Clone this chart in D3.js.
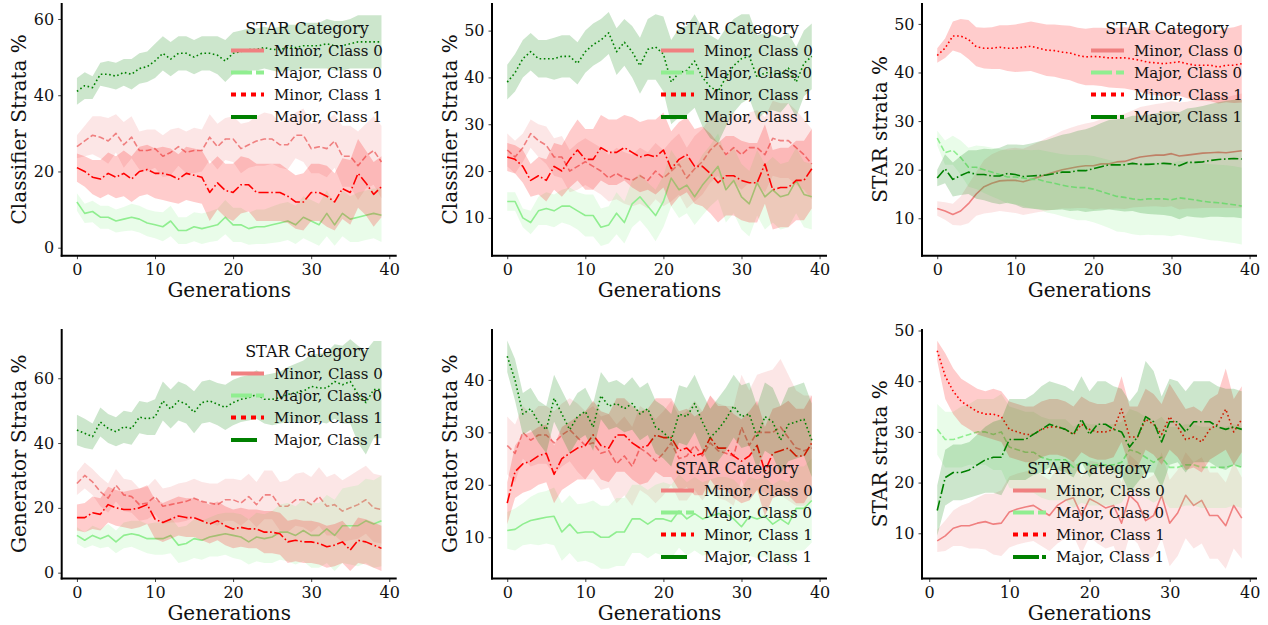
<!DOCTYPE html>
<html>
<head>
<meta charset="utf-8">
<script src="https://cdn.jsdelivr.net/npm/d3@7"></script>
<style>
  html, body { margin: 0; padding: 0; background: #fff; }
  svg { display: block; font-family: "DejaVu Serif", serif; }
</style>
</head>
<body>
<svg id="chart" width="1268" height="625"></svg>
<script>
// ---- Generations on the x axis ----
const gens0 = [0,1,2,3,4,5,6,7,8,9,10,11,12,13,14,15,16,17,18,19,20,21,22,23,24,25,26,27,28,29,30,31,32,33,34,35,36,37,38,39];
const gens1 = [1,2,3,4,5,6,7,8,9,10,11,12,13,14,15,16,17,18,19,20,21,22,23,24,25,26,27,28,29,30,31,32,33,34,35,36,37,38,39];

const categories = ["Minor, Class 0", "Major, Class 0", "Minor, Class 1", "Major, Class 1"];
const legendTitle = "STAR Category";
const xTicks = [0, 10, 20, 30, 40];
const xLabel = "Generations";

// ---- Classifier strata, run A ----
const clfA_minor0 = [26.5,28,29.5,29,28,30,27,29,25.5,25.5,26,24,25,26.5,25,25.5,25.5,29,26.5,28.5,28.5,26,27,28,28.5,28.5,27,27,29.5,29.5,26,26.5,26,28,24,24,21.5,24,25.5,22.5];
const clfA_major0 = [12,9,9.5,8,8,7,7.5,8,7.5,6.5,6,5.5,7,4.5,4.5,5.5,5,5.5,6,8,6,6,5,5.5,5.5,6,6.5,7,6,8,7,6,9,6,9,7.5,8,8.5,9,8.5];
const clfA_minor1 = [21,20,18.5,18,19.5,18.5,19.5,18,20,20.5,19.5,19.5,19,18,19.5,19,18.5,14.5,17,15,14.5,16.5,16.5,14.5,14.5,14.5,14.5,13.5,12,12,14.5,14.5,13.5,12,15.5,14.5,19.5,17,14,16];
const clfA_major1 = [41,42.5,42,45.5,45.5,45,46,45.5,47,47.5,49,51,49.5,51,51,50,51,51,50.5,49,51,51.5,52,52,52.5,52,52,52.5,52.5,53,53,53,53.5,53,53,53.5,54,54,54,54];
const clfA_minor0_sd = [3,4,5,5.5,6,5,6,5.5,5,5.5,5,5.5,6,5,5.5,6,5.5,6,6,5.5,6,6.5,6,6.5,7,6.5,6,6.5,6,7,6.5,7,7.5,7,8,8,9,8.5,9,9.5];
const clfA_major0_sd = [2.3,2.5,2.8,3,3,3,3.2,3.5,3.5,3.5,3.5,3.8,4,3.5,3.5,3.8,4,4,4.2,4.5,4.5,4.5,4.2,4.5,4.5,4.8,5,5,5,5.5,5.5,5.5,6,5.5,6,6,6.5,6.5,6.5,7];
const clfA_minor1_sd = [3.7,4,4.5,5,5.5,5.5,6,6,6.5,6.5,6.5,7,7,6.5,7,7,7,7.5,7,7,7.5,7.5,7,7.5,7.5,7.5,7.5,7,7,7.5,7.5,7.5,8,7.5,8,8.5,9,8.5,8.5,8];
const clfA_major1_sd = [3.5,3.5,3,3,3.5,3.5,3.5,4,4,4,4.5,4.5,4.5,4.5,4.5,4.5,4.5,4.5,5,5.5,5.5,5.5,5.5,5.5,5.5,5.5,6,6,6,6,6,6,6.5,6.5,6.5,6.5,7,7,7,7];

// ---- Classifier strata, run B ----
const clfB_minor0 = [24.5,23,25,28,26.5,25.5,23,23,20,21,22,21,20,18.5,19.5,18.5,18,19,18,20,18.5,20,21.5,18.5,20.5,22,24.5,26,23.5,25,23.5,25,25,23.5,27,26.5,26.5,25,23.5,21.5];
const clfB_major0 = [13.5,13.5,10,9,11.5,12,11.5,12.5,12.5,11.5,10.5,10.5,8,8.5,11,9,13,14.5,12.5,10.5,13.5,18.5,16,17,14.5,17,19,21,16,18,14.5,13,17.5,14.5,16,14.5,15,18,15,14.5];
const clfB_minor1 = [23,22.5,21,18,19,18,21,20,22.5,24.5,22.5,22.5,25,24,24,25,24,23,23.5,23,24.5,20.5,22.5,23.5,21,21,19.5,17.5,19,19,18,17.5,17.5,21.5,16,16.5,16.5,18,18,20.5];
const clfB_major1 = [39,41,44,45.5,44,44,44,44.5,44.5,43,45.5,47,48,49.5,45.5,47.5,45.5,42.5,46,46.5,45,39,41,41.5,43.5,40,38,37,40,42.5,44,44.5,40,41,41,40.5,42,39,43,44.5];
const clfB_minor0_sd = [3.5,3.5,3,3,3.5,4,4,4.5,4.5,5,5,5,5,5,5.5,5.5,5.5,6,6,6,6,6.5,6.5,6.5,7,7,7,7,7,7.5,7.5,7.5,8,8,8,8,8,8,7.5,7.5];
const clfB_major0_sd = [2,2,2,2.5,3,3.5,3.5,3.5,4,4,4.5,4.5,4,4,4.5,4.5,5,5,5,5.5,5.5,6,6,6,6,6.5,6.5,7,7,7,7,7,7,7,7,7,7,7,7,7];
const clfB_minor1_sd = [3,3,3.5,3.5,4,4.5,5,5.5,6,6.5,6.5,6.5,7,7,7,7,7.5,7.5,7.5,8,8,8,8,8,8,8.5,8.5,8.5,8.5,8.5,8.5,8.5,8.5,8.5,8.5,8.5,8.5,8.5,8.5,8.5];
const clfB_major1_sd = [3.7,4,4,4,4,4,4.5,4.5,4.5,4.5,4.5,4.5,4.5,4.5,5,5,5.5,6,6.5,7,8,9,9.5,9.5,10,10.5,11,11,10.5,10,9.5,9,9,8.5,8,8,7.5,7.5,7,7];

// ---- STAR strata, run A ----
const starA_minor0 = [12,11.5,10.8,11.5,13,15,16.5,17.2,17.7,17.8,17.8,17.5,18,18.5,19,19.5,20,20.3,20.6,20.8,20.8,21.2,21.2,21.6,21.7,22.2,22.6,22.8,23,23,23.3,22.8,23,23.2,23.4,23.5,23.6,23.5,23.7,23.9];
const starA_major0 = [26.5,23.5,24,22.5,20.5,20.5,20,19.5,19,18.5,18.5,18.3,18,18,17.5,17.2,16.8,16.5,16.3,16.3,16,15.5,15,14.5,14.3,14,13.8,14,14,14,13.8,14.2,14,13.8,13.5,13.3,13.2,13,12.8,12.5];
const starA_minor1 = [43.5,45,47.5,47.5,46.8,45.3,45,45,45.2,45,45,45.2,45.4,45,44.6,44.5,44.2,44,43.5,43.2,43.3,43.2,43,43,43,42.8,42.5,42.1,42,41.8,42,42.2,41.8,41.5,41.5,41.5,41.1,41.5,41.5,41.8];
const starA_major1 = [18.3,20.2,18,18.8,19.5,19,19,18.7,18.7,19.2,19,18.6,18.7,18.8,18.9,19.2,19.5,19.5,19.8,19.8,20.2,20.6,21,21,21,21.3,21.1,21.1,21.2,21.3,21.2,20.8,21.5,21.5,21.6,21.9,22.1,22.2,22.3,22.2];
const starA_minor0_sd = [1.5,1.8,2.2,3,4,4.5,5.5,6,6.2,6.5,6.7,6.8,7,7.2,7.5,7.7,8,8.3,8.5,8.7,9,9.2,9.3,9.6,9.8,10,10.3,10.4,10.5,10.7,10.8,11,11,11.2,11.3,11.4,11.5,11.4,11.6,11.8];
const starA_major0_sd = [1.5,2.5,3,3.5,4,4.5,4.8,5,5.2,5.5,5.6,5.8,6,6.1,6.3,6.3,6.4,6.5,6.7,6.7,6.8,6.9,7,7.2,7.2,7.3,7.3,7.4,7.5,7.5,7.5,7.6,7.7,7.7,7.7,7.8,7.8,7.9,7.9,7.9];
const starA_minor1_sd = [1.5,2,3,3.5,4,4,4.2,4.3,4.5,4.7,4.9,5,5.1,5.2,5.3,5.4,5.5,5.6,5.7,5.8,5.9,6,6.1,6.2,6.3,6.4,6.5,6.6,6.7,6.8,6.9,7,7.1,7.2,7.3,7.4,7.5,7.6,7.8,8];
const starA_major1_sd = [1.7,3,3.5,4,4.5,5,5.3,5.5,5.8,6,6.2,6.5,6.7,7,7.2,7.5,7.7,8,8.2,8.5,8.7,9,9.2,9.4,9.6,9.8,10,10.2,10.4,10.6,10.8,11,11.1,11.3,11.5,11.6,11.8,12,12.1,12.2];

// ---- Generator strata, run A ----
const genA_minor0 = [27.5,30,28,25,23,27,24,23.5,21,21.5,23.5,20.5,21,21.5,22,23,22,21.5,21,22.5,22.5,21.5,23.5,21,24,24,20.5,20.5,22.5,22.5,21,23.5,20.5,21,19,20,21,22.5,20,19.5];
const genA_major0 = [11.5,10,11.5,10.5,11.5,9.5,11.5,12,11.5,10.5,10.5,10.5,11.5,8.5,9,10.5,10,11,11.5,12,11.5,11,9.5,11,10.5,11,12.5,12.5,11.5,13,11.5,11.5,13.5,11.5,14.5,14.5,14.5,16,15,16];
const genA_minor1 = [17,17,18.5,18,21,20,19.5,19.5,20,21,16.5,15.5,16.5,17.5,17,17,16,15,16,14.5,13.5,14,13.5,13.5,12.5,12.5,12,9.5,10,9.5,9.5,9,8,8.5,9.5,7,10,9.5,8.5,7.5];
const genA_major1 = [44,43,42,46.5,44.5,43.5,45,44.5,48,47.5,48,53,50.5,53,52,49.5,52.5,53,52,51,52.5,53.5,54,55,53.5,53.5,54,55,55.5,56,57.5,57,57,59,58,59,55,52.5,56.5,56.5];
const genA_minor0_sd = [3.5,4,4,4.5,4.5,5,5,5,5,5,5.5,5.5,5.5,6,6,6,6,6,6.5,6.5,6.5,7,7,7,7.5,7.5,7.5,8,8,8.5,8.5,9,9,9.5,9.5,10,10.5,10.5,10.5,10.5];
const genA_major0_sd = [2.5,2.5,3,3,3.5,3.5,4,4,4.5,4.5,5,5,5.5,5.5,5.5,6,6,6,6.5,6.5,7,7,7,7.5,7.5,8,8.5,9,9,9.5,10,10,10.5,11,11.5,12,12.5,13,13.5,14];
const genA_minor1_sd = [4,4.5,5,5,5.5,5.5,5.5,6,6,6,6,6,6,6,6,6,6,6,6,6,6,6,6,6,6.5,6.5,6.5,6.5,6.5,6.5,6.5,6.5,6.5,6.5,6.5,6.5,7,7,7,7];
const genA_major1_sd = [4.7,4.5,4,4.5,4.5,4.5,5,5,5,5,5.5,6,6,6,6,6.5,6.5,6.5,6.5,7,7,7,7,7.5,7.5,8,8,8.5,9,9.5,10,10.5,11,11.5,12,13,15,16,15,15];

// ---- Generator strata, run B ----
const genB_minor0 = [27.5,26,30,28.5,29.5,29.5,28,29.5,30.5,29,27.5,28,26,26.5,24,25.5,23.5,27,26,24.5,26,28,25,25.5,27.5,25.5,28,26.5,26,25.5,31,27.5,30,30,30,31,29,27,26.5,27];
const genB_major0 = [11.3,11.5,12.5,13.2,13.5,13.8,14,11,12.5,10.8,11,11,10,10,11,11,13.5,13.5,12.5,13.5,13.5,13,15,13.5,14.5,13.5,14,14.5,14.5,13.5,12,14,13.5,14,12.5,13.5,12.5,15.5,15.5,17];
const genB_minor1 = [16.5,22.5,24,24.5,25.5,26,22,25,26,27,27.5,29.5,27.5,27,29.5,29.5,28,27,27.5,29.5,29,29,26.5,27,25.5,26,29,27,27,25.5,24.5,25.5,27.5,22.5,26,26.5,27,25.5,25.5,28];
const genB_major1 = [44.5,40,33.5,34.5,32,30.5,36.5,33.5,30.5,33,34,31,37,35,35.5,34.5,35.5,33.5,34.5,31,30,28.5,33.5,33,35.5,32,29,30.5,32.5,35,33,33.5,29,33,32,28.5,31.5,32,32.5,28.5];
const genB_minor0_sd = [5.5,5.5,5,5,5.5,5.5,6,6,6,6.5,6.5,7,7,7,7.5,7.5,7.5,8,8,8,8,8,8,8.5,8.5,8.5,9,9,9,9.5,10,10.5,11,11.5,12,13,12,11,10.5,10];
const genB_major0_sd = [3.5,4,4,4.5,5,5,5.5,5.5,5.5,5.5,5.5,6,6,6,6.5,6.5,6.5,6.5,6.5,6.5,7,7,7,7,7,7,7,7,7,7.5,7.5,7.5,7.5,7.5,7.5,7.5,8,8,8,8];
const genB_minor1_sd = [4,5,5.5,5.5,5.5,5.5,5.5,6,6,6,6.5,6.5,6.5,6.5,7,7,7,7,7,7,7.5,7.5,7.5,7.5,7.5,8,8,8,8,8,8,8.5,8.5,8.5,8.5,8.5,9,9,9,9];
const genB_major1_sd = [3,4,4,4,4,4.5,4.5,4.5,4.5,4.5,4.5,4.5,4.5,4.5,4.5,4.5,5,5,5,5,5,5,5.5,5.5,5.5,5.5,5.5,6,6,6,6,6,6,6.5,6.5,6.5,7,7,7,7];

// ---- STAR strata, run B (starts at generation 1) ----
const starB_minor0 = [8.5,9.5,11,11.5,11.5,12,12.3,11.8,12,14.2,14.8,15.2,15.5,14.5,13.5,15.5,16.5,17,13.5,16.8,16,15,15.5,12,17.5,16,12.5,13.5,17.5,12,14,17.5,15.5,16.5,13.5,13.5,11.5,15.5,13];
const starB_major0 = [30.5,28.5,28.5,29,29.5,30,30,29.5,30,27,26.5,26,26,25,24.5,24.5,24.5,23,24,23.5,23.5,23.5,23.5,24,26.5,26,25,24,25,23,23,23.5,23.5,23,23,23,23,23.5,23];
const starB_minor1 = [46,41,38,36,35,34,33.5,33.5,33,30.5,30,29.5,29.5,30.5,31,31,30.5,29.5,31.5,30.5,30,30,30.5,34.5,29,29,32.5,31.5,29.5,33,31,28.5,29,28,30.5,31.5,34.5,30,32.5];
const starB_major1 = [14.5,21,22,22,22.5,23.5,24.5,25,25,28.5,28.5,28.5,29.5,30.5,31.5,31,30.5,29.5,32.5,29.5,31.5,31.5,30.5,30,27,29,33,32,28,32,32,30,32,32,32,31,30.5,31,30.5];
const starB_minor0_sd = [2.2,3,3.5,4,4.5,5,5.5,6,6.5,7,7,7,7,7,7,7.5,7.5,7.5,7.5,7.5,8,8,8,8,8,8,8,8,8.5,8.5,8.5,8.5,8.5,8.5,8.5,8.5,8.5,8.5,8];
const starB_major0_sd = [5,5.5,5.5,6,6,6.5,6.5,7,7.5,8,8,8,8,8,8,8,8,8,8,8,8,8,8,8,8,8,8,8,8,8,8,8,8,8,8,8,8,8,8];
const starB_minor1_sd = [2,4.5,4.5,4.5,4.5,4.5,4.5,5,5,5.5,5.5,5.5,5.5,5.5,5.5,5.5,5.5,5.5,5.5,5.5,5.5,5.5,5.5,6.5,6,6,6,6,6,6.5,6,6,6,6,6,6,8,6.5,6.5];
const starB_major1_sd = [5,5.5,5.5,5.5,5.5,6,6.5,7,7.5,8,8,8,8,8.5,8.5,8.5,8.5,8.5,8.5,8.5,8.5,8.5,8.5,8.5,9,9,11,10,9,8.5,8,8,8,8,8,8,8,7.5,7.5];

// ---- Styling ----
const colors = ["#f08080", "#90ee90", "#ff0000", "#008000"];
const dashes = { solid: null, dashed: "5.9,2.6", dotted: "1.6,2.6", dashdot: "10.2,2.6,1.6,2.6" };
const legendStyles = ["solid", "dashed", "dotted", "dashdot"];
const lineStylesSwapped = ["dashed", "solid", "dashdot", "dotted"];
const lineStylesNormal = ["solid", "dashed", "dotted", "dashdot"];
// legend handle patterns: the dash-dot handle shows its dot only where the line styles follow the legend
const legendDashesSwapped = { solid: null, dashed: "21,4", dotted: "5,5", dashdot: "26,40" };
const legendDashesNormal = { solid: null, dashed: "21,4", dotted: "5,5", dashdot: "26,3,4,20" };

const colLeft = [61.7, 492, 922];
const plotW = 335;
const rowTop = [3, 329];
const rowBottom = [255.7, 578.5];

const panels = [
  { row: 0, col: 0, ylabel: "Classifier Strata %", gens: gens0, xdom: [-1.95, 40.95], ydom: [-2.1, 64.2], yticks: [0, 20, 40, 60],
    means: [clfA_minor0, clfA_major0, clfA_minor1, clfA_major1], sds: [clfA_minor0_sd, clfA_major0_sd, clfA_minor1_sd, clfA_major1_sd],
    styles: lineStylesSwapped, handles: legendDashesSwapped, legend: [307, 28], ylabX: 19 },
  { row: 0, col: 1, ylabel: "Classifier Strata %", gens: gens0, xdom: [-1.95, 40.95], ydom: [1.92, 55.9], yticks: [10, 20, 30, 40, 50],
    means: [clfB_minor0, clfB_major0, clfB_minor1, clfB_major1], sds: [clfB_minor0_sd, clfB_major0_sd, clfB_minor1_sd, clfB_major1_sd],
    styles: lineStylesSwapped, handles: legendDashesSwapped, legend: [737, 28], ylabX: 450 },
  { row: 0, col: 2, ylabel: "STAR strata %", gens: gens0, xdom: [-1.95, 40.95], ydom: [2.3, 54.3], yticks: [10, 20, 30, 40, 50],
    means: [starA_minor0, starA_major0, starA_minor1, starA_major1], sds: [starA_minor0_sd, starA_major0_sd, starA_minor1_sd, starA_major1_sd],
    styles: lineStylesNormal, handles: legendDashesNormal, legend: [1167, 28], ylabX: 880 },
  { row: 1, col: 0, ylabel: "Generator Strata %", gens: gens0, xdom: [-1.95, 40.95], ydom: [-1.8, 75.2], yticks: [0, 20, 40, 60],
    means: [genA_minor0, genA_major0, genA_minor1, genA_major1], sds: [genA_minor0_sd, genA_major0_sd, genA_minor1_sd, genA_major1_sd],
    styles: lineStylesSwapped, handles: legendDashesSwapped, legend: [307, 351], ylabX: 19 },
  { row: 1, col: 1, ylabel: "Generator Strata %", gens: gens0, xdom: [-1.95, 40.95], ydom: [2.14, 49.7], yticks: [10, 20, 30, 40],
    means: [genB_minor0, genB_major0, genB_minor1, genB_major1], sds: [genB_minor0_sd, genB_major0_sd, genB_minor1_sd, genB_major1_sd],
    styles: lineStylesSwapped, handles: legendDashesSwapped, legend: [737, 468], ylabX: 450 },
  { row: 1, col: 2, ylabel: "STAR strata %", gens: gens1, xdom: [-0.9, 40.9], ydom: [1.08, 50.3], yticks: [10, 20, 30, 40, 50],
    means: [starB_minor0, starB_major0, starB_minor1, starB_major1], sds: [starB_minor0_sd, starB_major0_sd, starB_minor1_sd, starB_major1_sd],
    styles: lineStylesNormal, handles: legendDashesNormal, legend: [1089, 468], ylabX: 880 }
];

const svg = d3.select("#chart");

panels.forEach((p, pi) => {
  const x0 = colLeft[p.col], x1 = x0 + plotW;
  const yTop = rowTop[p.row], yBot = rowBottom[p.row];
  const x = d3.scaleLinear().domain(p.xdom).range([x0, x1]);
  const y = d3.scaleLinear().domain(p.ydom).range([yBot, yTop]);

  const clipId = "clip" + pi;
  svg.append("clipPath").attr("id", clipId)
    .append("rect").attr("x", x0).attr("y", yTop).attr("width", x1 - x0).attr("height", yBot - yTop);

  const plot = svg.append("g").attr("clip-path", `url(#${clipId})`);

  // each category: mean line, then its ±sd band
  p.means.forEach((m, si) => {
    const rows = p.gens.map((g, i) => ({ g, m: m[i], s: p.sds[si][i] }));
    const line = d3.line().x(d => x(d.g)).y(d => y(d.m));
    const area = d3.area().x(d => x(d.g)).y0(d => y(d.m - d.s)).y1(d => y(d.m + d.s));
    plot.append("path").datum(rows)
      .attr("d", line)
      .attr("fill", "none")
      .attr("stroke", colors[si])
      .attr("stroke-width", 1.6)
      .attr("stroke-dasharray", dashes[p.styles[si]])
      .attr("stroke-linejoin", "round");
    plot.append("path").datum(rows)
      .attr("d", area)
      .attr("fill", colors[si])
      .attr("fill-opacity", 0.2)
      .attr("stroke", "none");
  });

  // axes
  const xAxis = d3.axisBottom(x).tickValues(xTicks).tickSize(3.5).tickPadding(4.5);
  const yAxis = d3.axisLeft(y).tickValues(p.yticks).tickSize(3.5).tickPadding(4);
  const gx = svg.append("g").attr("transform", `translate(0,${yBot})`).call(xAxis);
  const gy = svg.append("g").attr("transform", `translate(${x0},0)`).call(yAxis);
  [gx, gy].forEach(g => {
    g.select(".domain").remove();
    g.selectAll(".tick line").attr("stroke", "#444").attr("stroke-width", 1);
    g.selectAll(".tick text").attr("font-family", "DejaVu Serif").attr("font-size", 16).attr("fill", "#111");
  });
  // left and bottom spines
  svg.append("line").attr("x1", x0).attr("x2", x0).attr("y1", yTop).attr("y2", yBot + 1)
    .attr("stroke", "#000").attr("stroke-width", 2);
  svg.append("line").attr("x1", x0 - 1).attr("x2", x1).attr("y1", yBot).attr("y2", yBot)
    .attr("stroke", "#000").attr("stroke-width", 2);

  // axis labels
  svg.append("text")
    .attr("x", (x0 + x1) / 2).attr("y", yBot + 41)
    .attr("text-anchor", "middle").attr("font-size", 20).attr("fill", "#111")
    .text(xLabel);
  svg.append("text")
    .attr("transform", `translate(${p.ylabX},${(yTop + yBot) / 2}) rotate(-90)`)
    .attr("text-anchor", "middle").attr("dy", "0.35em").attr("font-size", 20).attr("fill", "#111")
    .text(p.ylabel);

  // legend (no frame)
  const [lx, ly] = p.legend;
  const lg = svg.append("g");
  lg.append("text").attr("x", lx).attr("y", ly).attr("dy", "0.35em")
    .attr("text-anchor", "middle").attr("font-size", 16).attr("fill", "#111").text(legendTitle);
  const rowOff = [22.5, 44.5, 66.5, 89];
  categories.forEach((c, si) => {
    const ry = ly + rowOff[si];
    lg.append("line").attr("x1", lx - 76).attr("x2", lx - 43).attr("y1", ry).attr("y2", ry)
      .attr("stroke", colors[si]).attr("stroke-width", 4)
      .attr("stroke-dasharray", p.handles[legendStyles[si]]);
    lg.append("text").attr("x", lx - 33).attr("y", ry).attr("dy", "0.35em")
      .attr("font-size", 15).attr("fill", "#111").text(c);
  });
});
</script>
</body>
</html>
